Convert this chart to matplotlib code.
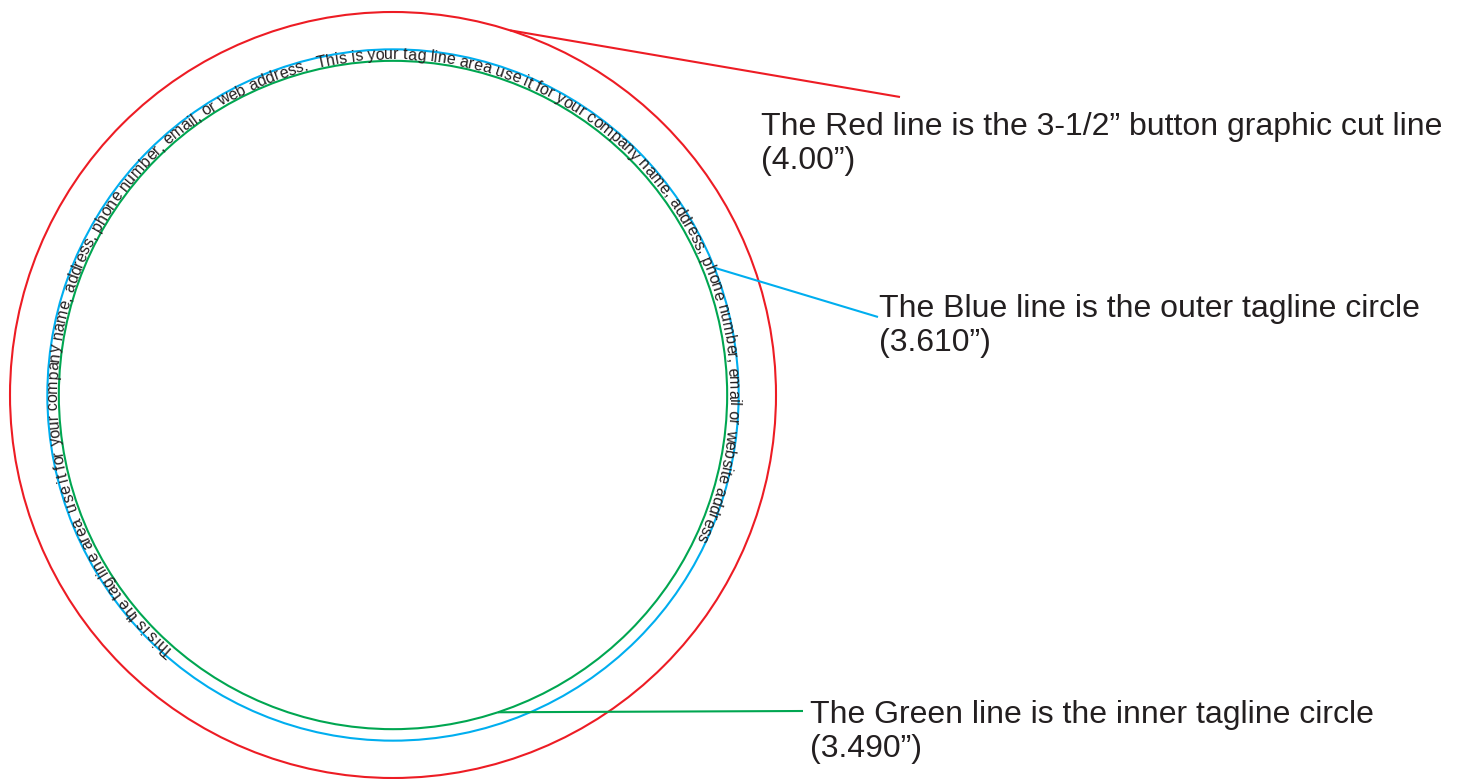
import numpy as np
import matplotlib.pyplot as plt
from matplotlib.patches import Circle
from matplotlib import font_manager
from matplotlib.ft2font import FT2Font

# circle data: diameters in inches, colours, callout labels
diameters = [4.00, 3.610, 3.490]
colors = ["#ED1C24", "#00AEEF", "#00A651"]
label_lines = [
    ["The Red line is the 3-1/2\u201d button graphic cut line", "(4.00\u201d)"],
    ["The Blue line is the outer tagline circle", "(3.610\u201d)"],
    ["The Green line is the inner tagline circle", "(3.490\u201d)"],
]
tagline = ("This is the tag line area  use it for your company name, address, phone number, "
           "email, or web address.  This is your tag line area use it for your company name, "
           "address, phone number, email or website address")

# layout (pixels)
W, H = 1460, 779
cx, cy = 393, 395
px_per_in = 191.5
leader_start_ang = [72.2, 21.6, -71.7]          # where each callout leaves its circle
leader_end = [(900, 97), (878, 317), (803, 711)]
label_pos = [(761, 135), (879, 317), (810, 723)]
line_gap = 34
text_color = "#231F20"
font_name = "Liberation Sans"

# a narrower face for the curved tagline if one is installed
arc_font = font_name
for cand in ["Liberation Sans Narrow", "DejaVu Sans Condensed"]:
    try:
        font_manager.findfont(font_manager.FontProperties(family=cand), fallback_to_default=False)
        arc_font = cand
        break
    except ValueError:
        pass

fig = plt.figure(figsize=(W / 100, H / 100), dpi=100)
ax = fig.add_axes([0, 0, 1, 1])
ax.set_xlim(0, W)
ax.set_ylim(H, 0)
ax.axis("off")

radii = [d / 2 * px_per_in for d in diameters]
for r, c in zip(radii, colors):
    ax.add_patch(Circle((cx, cy), r, fill=False, edgecolor=c, linewidth=1.5))

# callout lines and labels
for r, c, a, end, pos, lines in zip(radii, colors, leader_start_ang, leader_end, label_pos, label_lines):
    t = np.radians(a)
    sx, sy = cx + r * np.cos(t), cy - r * np.sin(t)
    ax.plot([sx, end[0]], [sy, end[1]], color=c, linewidth=1.5, solid_capstyle="butt")
    for i, s in enumerate(lines):
        ax.text(pos[0], pos[1] + i * line_gap, s, fontsize=23, family=font_name,
                color=text_color, ha="left", va="baseline")

# tagline text along the arc between the green and blue circles
start_ang, end_ang = 229.5, -25.5
r_base = radii[2] + 1.5
path = font_manager.findfont(font_manager.FontProperties(family=arc_font))
ft = FT2Font(path)
ft.set_size(10, 100)
adv = []
for ch in tagline:
    g = ft.load_char(ord(ch))
    adv.append(g.linearHoriAdvance / 65536)
adv = np.array(adv)
span = np.radians(start_ang - end_ang) * r_base
size = 10 * span / adv.sum()
adv = adv * size / 10
centers = np.cumsum(adv) - adv / 2
for ch, s in zip(tagline, centers):
    th = np.radians(start_ang) - s / r_base
    x, y = cx + r_base * np.cos(th), cy - r_base * np.sin(th)
    ax.text(x, y, ch, fontsize=size, family=arc_font, color=text_color,
            rotation=np.degrees(th) - 90, rotation_mode="anchor",
            ha="center", va="baseline")

fig.savefig("out.png", dpi=100)
